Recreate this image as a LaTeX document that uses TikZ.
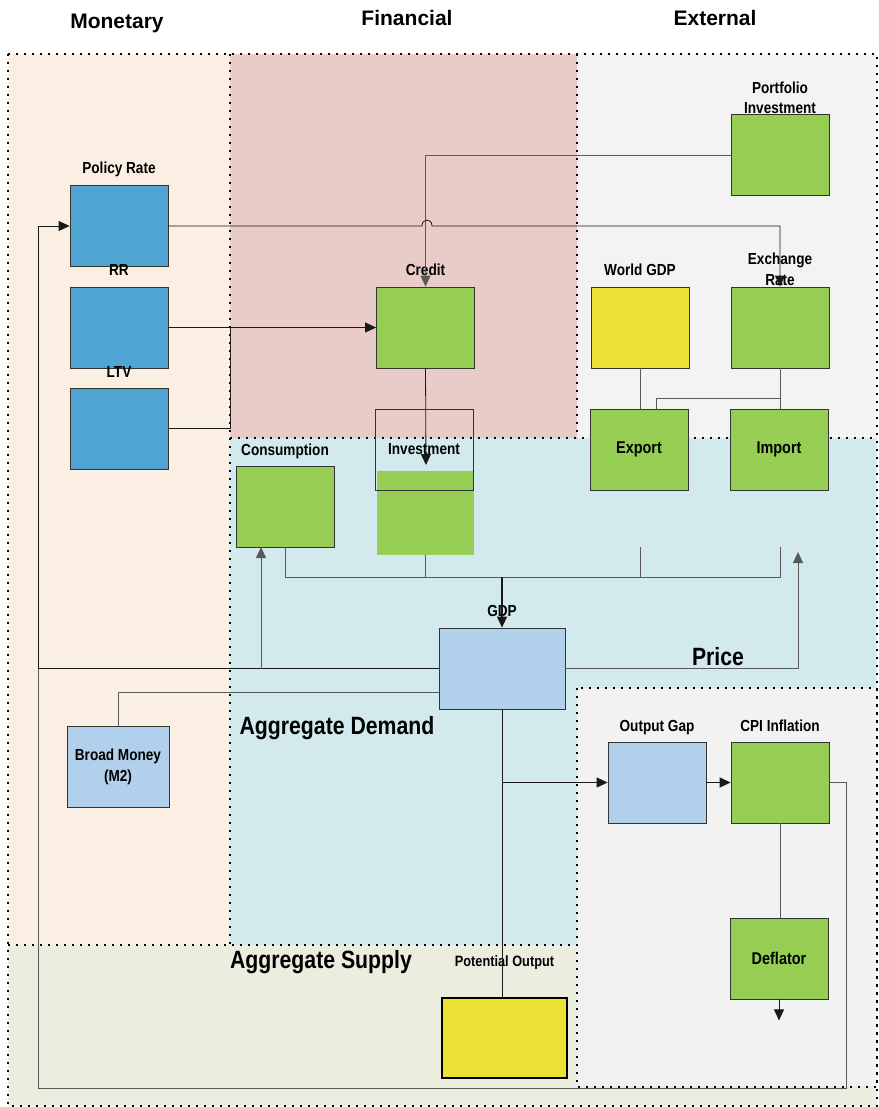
\documentclass[tikz,border=0pt]{standalone}
\usepackage{fontspec}
\setmainfont{Liberation Sans}
\newfontfamily\narrow{Liberation Sans}[FakeStretch=0.85]
\usetikzlibrary{positioning, calc, arrows.meta}
\definecolor{Monet}{HTML}{FBEEE2}
\definecolor{Finan}{HTML}{E9CCC8}
\definecolor{Extern}{HTML}{F3F3F3}
\definecolor{Demand}{HTML}{D2EAED}
\definecolor{Supply}{HTML}{EBEEDF}
\definecolor{PriceBg}{HTML}{F2F2F2}
\definecolor{PolBlue}{HTML}{4EA5D2}
\definecolor{Grn}{HTML}{95CE53}
\definecolor{Yel}{HTML}{EBE134}
\definecolor{LtBlue}{HTML}{B1D0EC}
\tikzset{
    box/.style={rectangle, draw=black!80, line width=0.8pt, minimum width=98pt, minimum height=81pt,
        inner sep=0pt, align=center, font=\narrow\bfseries\fontsize{17}{21}\selectfont},
    lbl/.style={inner sep=0pt, align=center, font=\narrow\bfseries\fontsize{16}{20.5}\selectfont},
    head/.style={anchor=base, inner sep=0pt, font=\bfseries\fontsize{21}{24}\selectfont},
    zone/.style={anchor=base, inner sep=0pt, font=\narrow\bfseries\fontsize{25}{27}\selectfont},
    border/.style={line width=1.9pt, dash pattern=on 1.9pt off 6.1pt},
}

\begin{document}
\begin{tikzpicture}[
        x=1pt, y=-1pt,
        % connettori
        line/.style={draw=black!90, line width=0.8pt},
        gline/.style={draw=black!65, line width=0.8pt},
        arr/.style={line, -{Triangle[length=11pt, width=10pt]}},
        garr/.style={gline, -{Triangle[length=11pt, width=10pt]}}
    ]
    \useasboundingbox (0,0) rectangle (878,1107);

    % --- 1. Zone di sfondo ---
    \fill[Supply] (8,945) rectangle (877,1106);
    \fill[Monet] (8,54) rectangle (230,945);
    \fill[Finan] (230,54) rectangle (577,438);
    \fill[Extern] (577,54) rectangle (877,438);
    \fill[Demand] (230,438) rectangle (877,945);
    \fill[PriceBg] (577,688) rectangle (877,1087);

    \draw[border] (8,54) rectangle (877,1106);
    \draw[border] (230,54) -- (230,945);
    \draw[border] (577,54) -- (577,438);
    \draw[border] (230,438) -- (877,438);
    \draw[border] (8,945) -- (577,945);
    \draw[border] (577,688) rectangle (877,1087);

    % titoli
    \node[head] (h-mon) at (117,29) {Monetary};
    \node[head] (h-fin) at (407,26) {Financial};
    \node[head] (h-ext) at (715,26) {External};
    \node[zone] (z-ad) at (337,734) {Aggregate Demand};
    \node[zone] (z-pr) at (718,665) {Price};
    \node[zone] (z-as) at (321,968) {Aggregate Supply};

    % --- 2. Blocchi ---
    \node[box, fill=PolBlue] (pr) at (119,226) {};
    \node[box, fill=PolBlue] (rr) at (119,327.5) {};
    \node[box, fill=PolBlue] (ltv) at (119,428.5) {};
    \node[box, fill=Grn] (credit) at (425.5,327.5) {};
    \node[box, fill=Grn] (port) at (780,155) {};
    \node[box, fill=Yel] (wgdp) at (640,327.5) {};
    \node[box, fill=Grn] (exr) at (780,327.5) {};
    \node[box, fill=Grn] (export) at (639,449.5) {Export};
    \node[box, fill=Grn] (import) at (779,449.5) {Import};
    \node[box, fill=Grn] (cons) at (285,506.5) {};
    \node[box, draw=none, fill=Grn, minimum width=97pt, minimum height=84pt] (invfill) at (425.5,513) {};
    \node[box, lbl] (inv) at (424,449.5) {Investment};
    \node[box, fill=LtBlue, minimum width=126pt] (gdp) at (502,668.5) {};
    \node[box, fill=LtBlue, minimum width=102pt, font=\narrow\bfseries\fontsize{16}{21}\selectfont] (m2) at (118,766.5) {Broad Money\\(M2)};
    \node[box, fill=LtBlue] (gap) at (657,782.5) {};
    \node[box, fill=Grn] (cpi) at (780,782.5) {};
    \node[box, fill=Grn] (defl) at (779,958.5) {Deflator};
    \node[box, fill=Yel, draw=black, line width=2.2pt, minimum width=125pt, minimum height=80pt] (pot) at (504.5,1038) {};

    % etichette sopra i blocchi
    \node[lbl, above=8pt of pr] (pr-lbl) {Policy Rate};
    \node[lbl, above=11pt of rr] (rr-lbl) {RR};
    \node[lbl, above=10pt of ltv] (ltv-lbl) {LTV};
    \node[lbl, above=11pt of credit] (credit-lbl) {Credit};
    \node[lbl, above=0pt of port] (port-lbl) {Portfolio\\Investment};
    \node[lbl, above=11pt of wgdp] (wgdp-lbl) {World GDP};
    \node[lbl, above=1pt of exr] (exr-lbl) {Exchange\\Rate};
    \node[lbl, above=7pt of cons] (cons-lbl) {Consumption};
    \node[lbl, above=11pt of gdp] (gdp-lbl) {GDP};
    \node[lbl, above=7pt of gap] (gap-lbl) {Output Gap};
    \node[lbl, above=10pt of cpi] (cpi-lbl) {CPI Inflation};
    \node[lbl, above=27pt of pot, font=\narrow\bfseries\fontsize{15}{17}\selectfont] (pot-lbl) {Potential Output};

    % punti di snodo
    \coordinate (fb) at (38,668.5);
    \coordinate (sum) at (502,577);
    \coordinate (exp-out) at (640,547);
    \coordinate (imp-out) at (780,547);
    \coordinate (price) at (798,552);
    \coordinate (m2-in) at (439,692);
    \coordinate (gap-in) at (502,782.5);
    \coordinate (inv-in) at (426,465);

    % --- 3. Collegamenti ---
    \draw[garr] (port.west) -| (credit.north);
    \draw[arr] (pr.east) -- (422,226) .. controls (422,218) and (432,218) .. (432,226) -| (exr.north);
    \draw[arr] (rr.east) -- (credit.west);
    \draw[line] (ltv.east) -- (230,428.5) -- (230,327.5);
    \draw[arr] (credit.south) -- (inv-in);
    \draw[gline] (wgdp.south) -- (wgdp.south |- export.north);
    \draw[gline] (exr.south) -- (exr.south |- import.north);
    \draw[gline] (780,398) -- (656,398) -- (656,409);

    % somma verso il PIL
    \draw[gline] (cons.south) |- (imp-out |- sum) -- (imp-out);
    \draw[gline] (invfill.south) -- (invfill.south |- sum);
    \draw[gline] (exp-out) -- (exp-out |- sum);
    \draw[arr, line width=1.3pt] (sum) -- (gdp.north);

    % ritorni
    \draw[arr] (gdp.west) -- (fb) |- (pr.west);
    \draw[garr] (261,668.5) -- (261,547);
    \draw[garr] (gdp.east) -| (price);
    \draw[gline] (m2.north) |- (m2-in);
    \draw[line] (gdp.south) -- (gdp.south |- pot.north);
    \draw[arr] (gap-in) -- (gap.west);
    \draw[arr] (gap.east) -- (cpi.west);
    \draw[gline] (cpi.east) -- (846,782.5) -- (846,1088) -- (38,1088) -- (fb);
    \draw[gline] (cpi.south) -- (cpi.south |- defl.north);
    \draw[arr] (defl.south) -- ++(0,21);
\end{tikzpicture}
\end{document}
